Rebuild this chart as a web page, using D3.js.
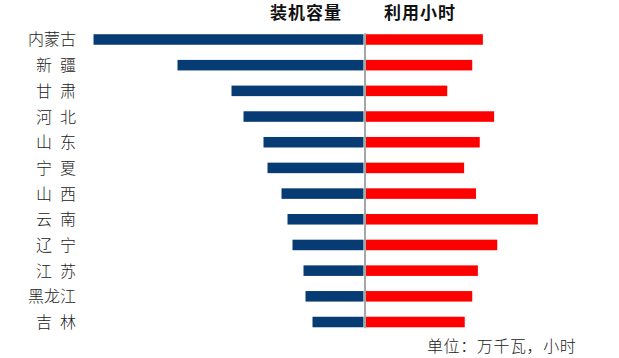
<!DOCTYPE html>
<html><head><meta charset="utf-8">
<script src="https://cdn.jsdelivr.net/npm/d3@7"></script>
<style>html,body{margin:0;padding:0;background:#fff;}svg{display:block;}</style>
</head><body>
<svg id="c" width="619" height="358"></svg>
<script>
const categories = ["内蒙古","新 疆","甘 肃","河 北","山 东","宁 夏","山 西","云 南","辽 宁","江 苏","黑龙江","吉 林"];
const capacity = [2430,1674,1188,1080,900,864,738,684,639,540,522,459];   // 万千瓦 (estimated)
const hours = [1870,1700,1300,2050,1820,1570,1760,2750,2100,1790,1700,1580]; // 小时 (estimated)
const seriesNames = ["装机容量","利用小时"];
const unitNote = "单位：万千瓦，小时";

const svg = d3.select("#c");
const font = "'Noto Sans CJK SC', 'Noto Sans', sans-serif";

const y = d3.scaleBand().domain(categories).range([26.65, 334.85]).paddingInner(0.59).paddingOuter(0.295);
const xL = d3.scaleLinear().domain([0, 3000]).range([363.5, 363.5 - 333.3]);
const xR = d3.scaleLinear().domain([0, 3000]).range([366, 366 + 187.5]);

svg.append("g").selectAll("rect").data(categories).join("rect")
  .attr("x", (d,i) => xL(capacity[i]))
  .attr("y", d => y(d))
  .attr("width", (d,i) => xL(0) - xL(capacity[i]))
  .attr("height", y.bandwidth())
  .attr("fill", "#063b73");

svg.append("g").selectAll("rect").data(categories).join("rect")
  .attr("x", xR(0))
  .attr("y", d => y(d))
  .attr("width", (d,i) => xR(hours[i]) - xR(0))
  .attr("height", y.bandwidth())
  .attr("fill", "#ff0000");

// center axis
svg.append("line")
  .attr("x1", 365).attr("x2", 365)
  .attr("y1", y(categories[0]) - 1).attr("y2", y(categories[categories.length-1]) + y.bandwidth() + 1)
  .attr("stroke", "#a6a6a6").attr("stroke-width", 2);

// category labels
svg.append("g").selectAll("text").data(categories).join("text")
  .attr("x", 76)
  .attr("y", d => y(d) + y.bandwidth()/2 - 1)
  .attr("text-anchor", "end")
  .attr("dominant-baseline", "central")
  .attr("font-family", font).attr("font-size", 16).attr("font-weight", 300).attr("fill", "#222")
  .text(d => d.replace(" ", "\u2002"));

// series titles
svg.append("text").attr("x", 306).attr("y", 11).attr("text-anchor", "middle")
  .attr("dominant-baseline", "central")
  .attr("font-family", font).attr("font-size", 17).attr("font-weight", "bold")
  .attr("letter-spacing", 1).attr("fill", "#111").text(seriesNames[0]);
svg.append("text").attr("x", 420).attr("y", 11).attr("text-anchor", "middle")
  .attr("dominant-baseline", "central")
  .attr("font-family", font).attr("font-size", 17).attr("font-weight", "bold")
  .attr("letter-spacing", 1).attr("fill", "#111").text(seriesNames[1]);

// unit note
svg.append("text").attr("x", 427).attr("y", 345)
  .attr("dominant-baseline", "central")
  .attr("font-family", font).attr("font-size", 16).attr("font-weight", 300).attr("letter-spacing", 0.6)
  .attr("fill", "#222").text(unitNote);
</script>
</body></html>
